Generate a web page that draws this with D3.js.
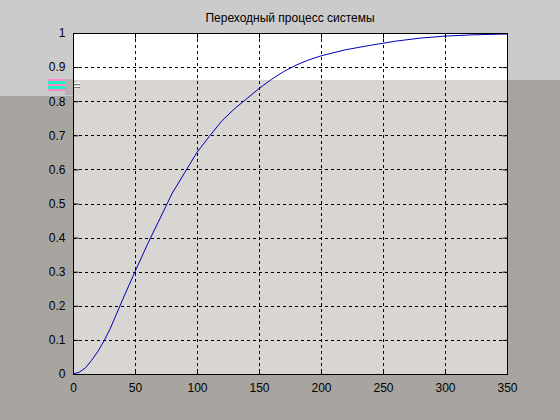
<!DOCTYPE html>
<html><head><meta charset="utf-8">
<script src="https://cdn.jsdelivr.net/npm/d3@7"></script>
<style>body{margin:0;background:#cbcbcb}svg{display:block}text{font-family:"Liberation Sans",Arial,sans-serif;font-size:12px;fill:#000}</style>
</head><body>
<script>
const title = "Переходный процесс системы";
const timeValues = [0,5,10,15,20,25,30,35,40,50,60,70,80,90,100,110,120,130,140,150,160,170,180,190,200,220,240,260,280,300,325,350];
const responseValues = [0,0.005,0.018,0.04,0.066,0.097,0.133,0.175,0.218,0.30,0.38,0.455,0.53,0.59,0.65,0.697,0.742,0.777,0.807,0.837,0.864,0.887,0.906,0.921,0.933,0.951,0.964,0.976,0.985,0.991,0.995,0.997];
const xTicks = [0,50,100,150,200,250,300,350];
const yTicks = [0,0.1,0.2,0.3,0.4,0.5,0.6,0.7,0.8,0.9,1];

const W=560,H=420, L=73,R=507,T=33,B=374;
const svg=d3.select("body").append("svg").attr("width",W).attr("height",H);
const light="#cbcbcb", dark="#a8a5a1", plotLow="#d8d5d2";
svg.append("rect").attr("width",W).attr("height",H).attr("fill",light);
svg.append("rect").attr("x",0).attr("y",96).attr("width",L).attr("height",H-96).attr("fill",dark);
svg.append("rect").attr("x",L).attr("y",80).attr("width",W-L).attr("height",H-80).attr("fill",dark);

const x=d3.scaleLinear().domain([0,350]).range([L,R]);
const y=d3.scaleLinear().domain([0,1]).range([B,T]);

svg.append("rect").attr("x",L).attr("y",T).attr("width",R-L).attr("height",80-T).attr("fill","#fff");
svg.append("rect").attr("x",L).attr("y",80).attr("width",R-L).attr("height",B-80).attr("fill",plotLow);

const art=svg.append("g");
[["#ff88c8",79,2],["#22f0c0",81,3],["#ff88c8",84,2],["#22f0c0",86,3],["#ff88c8",89,2]].forEach(s=>{
  art.append("rect").attr("x",48).attr("y",s[1]).attr("width",17).attr("height",s[2]).attr("fill",s[0]);
});
art.append("rect").attr("x",65).attr("y",79).attr("width",8).attr("height",16).attr("fill","#b4b2b0");
art.append("path").attr("d","M74,83.5h6M74,86.5h6M79,81l-3,8").attr("stroke","#fff").attr("stroke-width",1);
art.append("path").attr("d","M74,84.5h6M74,87.5h6").attr("stroke","#444").attr("stroke-width",0.7);

const g=svg.append("g");
xTicks.slice(1,-1).forEach(t=>g.append("line").attr("x1",x(t)+0.5).attr("x2",x(t)+0.5).attr("y1",T).attr("y2",B).attr("stroke","#000").attr("stroke-dasharray","3,3"));
yTicks.slice(1,-1).forEach(t=>g.append("line").attr("y1",Math.round(y(t))+0.5).attr("y2",Math.round(y(t))+0.5).attr("x1",L).attr("x2",R).attr("stroke","#000").attr("stroke-dasharray","3,3"));

svg.append("path").datum(timeValues.map((t,i)=>[t,responseValues[i]]))
  .attr("d",d3.line().x(d=>x(d[0])).y(d=>y(d[1])))
  .attr("fill","none").attr("stroke","#0000b4").attr("stroke-width",1);

const xa=svg.append("g").attr("transform",`translate(0,${B+0.5})`).call(d3.axisBottom(x).tickValues(xTicks).tickSize(-5).tickPadding(9).tickFormat(d3.format("d")));
const xa2=svg.append("g").attr("transform",`translate(0,${T+0.5})`).call(d3.axisTop(x).tickValues(xTicks).tickSize(-5).tickFormat(""));
const ya=svg.append("g").attr("transform",`translate(${L+0.5},0)`).call(d3.axisLeft(y).tickValues(yTicks).tickSize(-5).tickPadding(8).tickFormat(d=>d===0||d===1?d3.format("d")(d):d3.format(".1f")(d)));
const ya2=svg.append("g").attr("transform",`translate(${R+0.5},0)`).call(d3.axisRight(y).tickValues(yTicks).tickSize(-5).tickFormat(""));
[xa,xa2,ya,ya2].forEach(a=>{a.select(".domain").remove();a.selectAll("line").attr("stroke","#000");a.selectAll("text").attr("font-size",12).attr("font-family","Liberation Sans, Arial, sans-serif").attr("fill","#000");});
svg.append("rect").attr("x",L+0.5).attr("y",T+0.5).attr("width",R-L).attr("height",B-T).attr("fill","none").attr("stroke","#000");

svg.append("text").attr("x",(L+R)/2).attr("y",22).attr("text-anchor","middle").text(title);
</script>
</body></html>
